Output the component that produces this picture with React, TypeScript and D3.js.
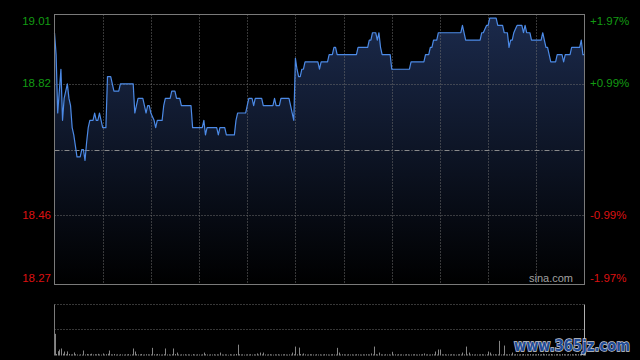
// Intraday minute chart (price line + volume) in the sina style, drawn with d3 scales in JSX
import React from "react"
import * as d3 from "d3"

// one row per half hour: 9:30-12:00, then 13:00-16:00
const prices: number[] = [
  18.96, 18.90, 18.74, 18.80, 18.86, 18.72, 18.78, 18.80, 18.82, 18.78, 18.76, 18.70, 18.68, 18.65, 18.62, 18.62, 18.62, 18.64, 18.64, 18.61, 18.66, 18.70, 18.72, 18.72, 18.72, 18.74, 18.72, 18.72, 18.74, 18.72,
  18.70, 18.70, 18.70, 18.84, 18.84, 18.84, 18.82, 18.80, 18.80, 18.80, 18.80, 18.82, 18.82, 18.82, 18.82, 18.82, 18.82, 18.82, 18.82, 18.82, 18.74, 18.76, 18.78, 18.78, 18.78, 18.78, 18.76, 18.74, 18.76, 18.76,
  18.74, 18.73, 18.72, 18.70, 18.72, 18.72, 18.72, 18.72, 18.76, 18.78, 18.78, 18.78, 18.78, 18.80, 18.80, 18.80, 18.78, 18.78, 18.78, 18.76, 18.76, 18.76, 18.76, 18.76, 18.76, 18.76, 18.70, 18.70, 18.70, 18.70,
  18.70, 18.70, 18.70, 18.72, 18.68, 18.70, 18.70, 18.70, 18.70, 18.70, 18.70, 18.70, 18.68, 18.70, 18.70, 18.70, 18.70, 18.68, 18.68, 18.68, 18.68, 18.68, 18.68, 18.72, 18.74, 18.74, 18.74, 18.74, 18.74, 18.74,
  18.76, 18.78, 18.78, 18.78, 18.76, 18.78, 18.78, 18.78, 18.78, 18.78, 18.76, 18.76, 18.76, 18.76, 18.76, 18.76, 18.76, 18.78, 18.76, 18.76, 18.76, 18.78, 18.78, 18.78, 18.78, 18.78, 18.78, 18.76, 18.74, 18.72,
  18.89, 18.86, 18.84, 18.84, 18.86, 18.86, 18.88, 18.88, 18.88, 18.88, 18.88, 18.88, 18.88, 18.88, 18.88, 18.86, 18.88, 18.88, 18.88, 18.88, 18.88, 18.90, 18.90, 18.90, 18.92, 18.92, 18.90, 18.90, 18.90, 18.90,
  18.90, 18.90, 18.90, 18.90, 18.90, 18.90, 18.90, 18.90, 18.90, 18.92, 18.92, 18.92, 18.92, 18.92, 18.92, 18.92, 18.94, 18.94, 18.96, 18.96, 18.96, 18.94, 18.96, 18.92, 18.90, 18.90, 18.90, 18.90, 18.90, 18.90,
  18.86, 18.86, 18.86, 18.86, 18.86, 18.86, 18.86, 18.86, 18.86, 18.86, 18.86, 18.86, 18.88, 18.88, 18.88, 18.88, 18.88, 18.88, 18.88, 18.88, 18.88, 18.90, 18.90, 18.90, 18.92, 18.92, 18.94, 18.94, 18.94, 18.96,
  18.96, 18.96, 18.96, 18.96, 18.96, 18.96, 18.96, 18.96, 18.96, 18.96, 18.96, 18.96, 18.96, 18.96, 18.98, 18.96, 18.94, 18.94, 18.94, 18.94, 18.94, 18.94, 18.94, 18.94, 18.94, 18.94, 18.96, 18.96, 18.97, 18.98,
  18.98, 19.00, 19.00, 19.00, 19.00, 19.00, 18.98, 18.98, 18.98, 18.98, 18.96, 18.96, 18.96, 18.92, 18.94, 18.94, 18.96, 18.97, 18.98, 18.98, 18.98, 18.98, 18.96, 18.98, 18.96, 18.96, 18.96, 18.94, 18.94, 18.94,
  18.94, 18.94, 18.94, 18.94, 18.96, 18.94, 18.92, 18.92, 18.90, 18.88, 18.88, 18.88, 18.88, 18.90, 18.90, 18.90, 18.90, 18.88, 18.90, 18.90, 18.90, 18.90, 18.92, 18.92, 18.92, 18.92, 18.92, 18.92, 18.94, 18.90,
  18.90,
]

// volume per minute, thousand shares
const volumes: number[] = [
  170, 12, 34, 47, 55, 14, 31, 10, 32, 12, 8, 9, 24, 10, 8, 6, 9, 7, 39, 8, 12, 9, 10, 14, 8, 10, 9, 13, 8, 7,
  16, 8, 10, 14, 39, 9, 8, 12, 7, 9, 6, 10, 8, 7, 9, 8, 11, 7, 9, 55, 31, 10, 8, 9, 12, 7, 8, 10, 9, 8,
  9, 60, 10, 8, 12, 9, 7, 8, 10, 55, 8, 9, 7, 10, 55, 12, 23, 8, 7, 9, 8, 10, 7, 9, 8, 6, 11, 8, 7, 9,
  8, 7, 9, 23, 10, 8, 7, 9, 8, 10, 7, 9, 8, 23, 8, 7, 9, 8, 6, 10, 8, 7, 9, 12, 85, 10, 8, 9, 7, 8,
  9, 8, 10, 7, 9, 8, 16, 8, 23, 9, 23, 8, 7, 9, 10, 8, 7, 9, 8, 10, 7, 8, 9, 10, 8, 7, 9, 8, 23, 10,
  70, 9, 62, 12, 8, 16, 9, 7, 8, 10, 9, 8, 7, 10, 8, 9, 7, 8, 10, 9, 8, 7, 9, 10, 8, 8, 60, 23, 8, 10,
  9, 8, 7, 10, 8, 9, 7, 8, 10, 9, 8, 7, 9, 8, 10, 9, 8, 16, 9, 70, 10, 8, 23, 9, 8, 7, 10, 8, 9, 7,
  29, 8, 9, 7, 10, 8, 9, 7, 8, 10, 9, 7, 8, 9, 10, 8, 7, 9, 8, 10, 16, 8, 9, 7, 8, 10, 9, 31, 8, 47,
  47, 9, 8, 10, 7, 9, 8, 10, 9, 8, 7, 9, 10, 8, 23, 9, 70, 9, 23, 8, 10, 7, 9, 8, 8, 9, 10, 8, 7, 9,
  31, 23, 8, 9, 10, 8, 9, 115, 8, 10, 78, 9, 8, 10, 9, 23, 8, 10, 9, 8, 10, 9, 12, 8, 10, 9, 11, 8, 10, 9,
  9, 12, 8, 10, 14, 9, 11, 8, 10, 12, 9, 8, 10, 11, 9, 8, 12, 10, 9, 8, 11, 9, 10, 8, 12, 9, 10, 11, 14, 9,
  20,
]

const prevClose = 18.64
const priceTicks = [19.01, 18.82, 18.46, 18.27]
const pctLabels = ["+1.97%", "+0.99%", "-0.99%", "-1.97%"]

const W = 640
const H = 360
const left = 54.5
const right = 584.5
const top = 14.5
const bottom = 284.5
const volTop = 304.5
const volBottom = 355.5
const gridColor = "#6f6f6f"

export default function App() {
  const x = d3.scaleLinear().domain([0, 330]).range([left, right])
  const y = d3.scaleLinear().domain([18.27, 19.01]).range([bottom, top])
  const yVol = d3.scaleLinear().domain([0, 400]).range([volBottom, volTop])

  const line = d3.line<number>().x((d, i) => x(i)).y(d => y(d))
  const area = d3.area<number>().x((d, i) => x(i)).y0(bottom).y1(d => y(d))

  // a grid line every half hour
  const vTicks = d3.range(30, 330, 30)
  const font = "'Liberation Sans', Arial, sans-serif"

  return (
    <svg width={W} height={H} style={{ position: "absolute", left: 0, top: 0, display: "block" }}>
      <defs>
        <linearGradient id="fill" gradientUnits="userSpaceOnUse" x1="0" y1={top} x2="0" y2={bottom}>
          <stop offset="0" stopColor="#1b2a4c" />
          <stop offset="1" stopColor="#000000" />
        </linearGradient>
      </defs>
      <rect width={W} height={H} fill="#000" />

      <path d={area(prices) || ""} fill="url(#fill)" />

      {vTicks.map(t => (
        <line key={t} x1={Math.round(x(t)) + 0.5} x2={Math.round(x(t)) + 0.5} y1={top} y2={bottom}
          stroke={gridColor} strokeDasharray="1,2" />
      ))}
      {[18.82, 18.46].map(v => (
        <line key={v} x1={left} x2={right} y1={Math.round(y(v)) + 0.5} y2={Math.round(y(v)) + 0.5}
          stroke={gridColor} strokeDasharray="1,2" />
      ))}
      <line x1={left} x2={right} y1={Math.round(y(prevClose)) + 0.5} y2={Math.round(y(prevClose)) + 0.5}
        stroke="#8a8a8a" strokeDasharray="5,2,1,2" />

      <path d={line(prices) || ""} fill="none" stroke="#4c8ae6" strokeWidth={1.2} strokeLinejoin="round" />

      <rect x={left} y={top} width={right - left} height={bottom - top} fill="none" stroke="#7a7a7a" />

      {priceTicks.map((v, i) => {
        const yy = y(v)
        const base = i === 0 ? yy + 10 : i === priceTicks.length - 1 ? yy - 2.5 : yy + 3.5
        const col = v > prevClose ? "#139b13" : "#dd1111"
        return (
          <g key={v} fontFamily={font} fontSize={11.5} fill={col}>
            <text x={51} y={base} textAnchor="end">{v.toFixed(2)}</text>
            <text x={590} y={base}>{pctLabels[i]}</text>
          </g>
        )
      })}

      <text x={573} y={282} textAnchor="end" fontFamily={font} fontSize={11} fill="#a0a0a0">sina.com</text>

      {/* volume pane */}
      <line x1={left} x2={right} y1={volTop} y2={volTop} stroke={gridColor} strokeDasharray="1,2" />
      <line x1={left} x2={right} y1={329.5} y2={329.5} stroke={gridColor} strokeDasharray="1,2" />
      {volumes.map((v, i) => (
        <rect key={i} x={Math.round(x(i))} y={yVol(v)} width={1} height={volBottom - yVol(v)} fill="#858585" />
      ))}
      <line x1={left} x2={left} y1={volTop} y2={volBottom} stroke="#7a7a7a" />
      <line x1={right} x2={right} y1={volTop} y2={volBottom} stroke="#b0b0b0" />

      <text x={514} y={351} fontFamily="'DejaVu Sans', sans-serif" fontWeight="bold" fontSize={16}
        textLength={116} lengthAdjust="spacingAndGlyphs" fill="#1f4b96" stroke="#c8ccd4" strokeWidth={1.5}
        paintOrder="stroke">www.365jz.com</text>
    </svg>
  )
}
